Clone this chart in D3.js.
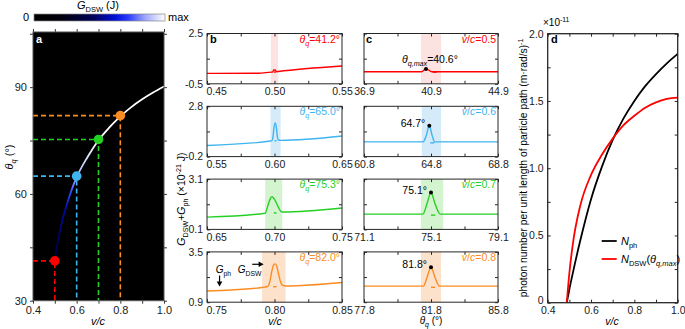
<!DOCTYPE html>
<html><head><meta charset="utf-8">
<script src="https://cdn.jsdelivr.net/npm/d3@7"></script>
<style>body{margin:0;background:#fff}svg{display:block}</style>
</head><body><svg id="c" width="685" height="329"></svg>
<script>
const FONT='"Liberation Sans", Arial, Helvetica, sans-serif';
// ---------- data ----------
// panel a
const aV=[0.5,0.505,0.51,0.52,0.53,0.55,0.575,0.6,0.65,0.7,0.75,0.8,0.85,0.9,0.95,1.0];
const aTheta=[40.6,43.5,45.5,48.5,51.5,56,60.8,64.7,70.4,75.1,78.7,81.8,84.4,86.6,88.5,90.2];
const aLevel=[0.4,0.42,0.44,0.47,0.5,0.56,0.74,0.86,0.95,1,1,1,1,1,1,1];
const markV=[0.5,0.6,0.7,0.8];
const markTheta=[41.2,65.0,75.3,82.0];
const colors=['#ff0000','#3fb4ee','#25d025','#fa8c22'];
const bandColors=['#fde2e2','#d5ebfa','#d3f4cf','#fde2cb'];
const cbStops=[0,0.2,0.45,0.62,0.72,0.85,1];
const cbColors=['#000000','#00000a','#00005a','#0010d8','#2a3cff','#a0a8ff','#ffffff'];
// panel b
const bXDomains=[[0.45,0.55],[0.55,0.65],[0.65,0.75],[0.75,0.85]];
const bYDomains=[[-0.5,2.5],[-0.2,2.8],[0.1,3.1],[0.9,3.5]];
const bThetaLabels=['41.2','65.0','75.3','82.0'];
const bBands=[[0.4973,0.5027],[0.597,0.6045],[0.6931,0.7057],[0.7908,0.8082]];
const bCurve1=[[0.45,0.12],[0.488,0.13],[0.4973,0.194],[0.4985,0.2],[0.4995,0.32],[0.5005,0.33],[0.5015,0.22],[0.5027,0.232],[0.55,0.56]];
const bCurve2=[[0.55,0.46],[0.597,0.73],[0.5985,0.8],[0.599,1.05],[0.5995,1.45],[0.6005,1.8],[0.6015,1.45],[0.602,1.05],[0.6028,0.8],[0.6045,0.77],[0.65,1.03]];
const bCurve3=[[0.65,0.83],[0.6931,1.067],[0.695,1.5],[0.697,1.95],[0.698,2.05],[0.699,2.0],[0.701,1.75],[0.703,1.4],[0.7045,1.2],[0.7057,1.135],[0.75,1.38]];
const bCurve4=[[0.75,1.48],[0.7908,1.66],[0.795,1.72],[0.7965,1.95],[0.798,2.5],[0.7995,2.85],[0.8005,2.88],[0.8015,2.8],[0.803,2.35],[0.8045,1.95],[0.806,1.78],[0.8082,1.74],[0.85,1.92]];
const bDash=[[0.4995,0.501,0.2],[0.6,0.6015,0.74],[0.6995,0.7015,1.08],[0.799,0.8015,1.70]];
// panel c
const cXDomains=[[36.9,44.9],[60.8,68.8],[71.1,79.1],[77.8,85.8]];
const cVcLabels=['0.5','0.6','0.7','0.8'];
const cBands=[[40.3,41.5],[64.25,65.4],[74.5,75.83],[81.2,82.4]];
const cPeakX=[40.6,64.7,75.1,81.8];
const cPeakY=[0.39,1.64,2.3,2.71];
const cCurve1=[[36.9,0.22],[40.34,0.22],[40.6,0.39],[40.95,0.22],[44.9,0.22]];
const cCurve2=[[60.8,0.68],[64.33,0.68],[64.5,1.0],[64.7,1.64],[64.87,1.05],[65.02,0.68],[68.8,0.68]];
const cCurve3=[[71.1,1.01],[74.62,1.01],[74.85,1.6],[75.1,2.3],[75.35,1.6],[75.65,1.01],[79.1,1.01]];
const cCurve4=[[77.8,1.73],[81.35,1.73],[81.55,2.15],[81.8,2.71],[82.05,2.15],[82.3,1.73],[85.8,1.73]];
const cDash=[[41.0,41.25,0.2],[64.75,65.0,0.62],[75.1,75.35,0.95],[81.8,82.05,1.67]];
// panel d
const dV=[0.488,0.5,0.52,0.55,0.6,0.65,0.7,0.75,0.8,0.85,0.9,0.95,1.0];
const dNph=[0,0.1,0.25,0.46,0.77,1.01,1.21,1.37,1.5,1.61,1.7,1.78,1.85];
const dNdsw=[0,0.22,0.48,0.72,0.95,1.1,1.22,1.32,1.39,1.45,1.49,1.515,1.525];

// ---------- helpers ----------
const svg=d3.select('#c');
const defs=svg.append('defs');
function rich(parent,x,y,parts,attrs={}){
  const fs=attrs['font-size']||10.5;
  const t=parent.append('text').attr('x',x).attr('y',y).attr('font-family',FONT).attr('font-size',fs);
  Object.entries(attrs).forEach(([k,v])=>t.attr(k,v));
  let cur=0;
  parts.forEach(p=>{
    const off=p.sub?fs*0.3:p.sup?-fs*0.42:0;
    const s=t.append('tspan').text(p.t).attr('dy',off-cur);
    cur=off;
    if(p.sub||p.sup) s.attr('font-size',fs*0.68);
    if(p.i) s.attr('font-style','italic');
  });
  return t;
}
function axes(g,xs,ys,c){
  const len=c.out?3:-3;
  const [X0,X1]=xs.range();const [Y1,Y0]=ys.range();
  const mk=(axis,tr,ticks,fmt,pad)=>{
    const a=g.append('g').attr('transform',tr)
      .call(axis.tickValues(ticks).tickFormat(fmt).tickSizeInner(len).tickSizeOuter(0).tickPadding(pad));
    a.select('.domain').remove();
    a.attr('font-family',FONT).attr('font-size',c.fs||10.5);
    a.selectAll('line').attr('stroke',c.tc||'#262626');
    a.selectAll('text').attr('fill','#1a1a1a');
    return a;
  };
  const bx=mk(d3.axisBottom(xs),`translate(0,${Y1})`,c.xt,c.xf,c.xpad);
  mk(d3.axisTop(xs),`translate(0,${Y0})`,c.xt,()=>'',0);
  const ly=mk(d3.axisLeft(ys),`translate(${X0},0)`,c.yt,c.yf,c.ypad);
  mk(d3.axisRight(ys),`translate(${X1},0)`,c.yt,()=>'',0);
  g.append('rect').attr('x',X0).attr('y',Y0).attr('width',X1-X0).attr('height',Y1-Y0)
    .attr('fill','none').attr('stroke',c.fc||'#262626').attr('stroke-width',c.fw||1);
  return {bx,ly};
}

// ---------- panel a ----------
const gA=svg.append('g');
const xA=d3.scaleLinear().domain([0.4,1.0]).range([33,164]);
const yA=d3.scaleLinear().domain([30,105.5]).range([300.7,32]);
const cbScale=d3.scaleLinear().domain(cbStops).range(cbColors);
// colorbar
const cbg=defs.append('linearGradient').attr('id','cbg').attr('x1','0%').attr('x2','100%');
cbStops.forEach((s,i)=>cbg.append('stop').attr('offset',(s*100)+'%').attr('stop-color',cbColors[i]));
const cbX=d3.scaleLinear().domain([0,1]).range([34,165]);
gA.append('rect').attr('x',cbX(0)).attr('y',14).attr('width',cbX(1)-cbX(0)).attr('height',7)
  .attr('fill','url(#cbg)').attr('stroke','#888').attr('stroke-width',0.7);
gA.append('text').attr('x',cbX(0)-5).attr('y',21).attr('text-anchor','end').attr('font-family',FONT).attr('font-size',11).text('0');
gA.append('text').attr('x',cbX(1)+3).attr('y',21).attr('font-family',FONT).attr('font-size',11).text('max');
rich(gA,98,9,[{t:'G',i:true},{t:'DSW',sub:true},{t:' (J)'}],{'text-anchor':'middle','font-size':11});
// plot
gA.append('rect').attr('x',xA(0.4)).attr('y',yA(105.5)).attr('width',xA(1)-xA(0.4)).attr('height',yA(30)-yA(105.5)).attr('fill','#000');
const cg=defs.append('linearGradient').attr('id','curveg').attr('gradientUnits','userSpaceOnUse')
  .attr('x1',0).attr('x2',0).attr('y1',yA(aTheta[0])).attr('y2',yA(aTheta[aTheta.length-1]));
const t0=yA(aTheta[0]),t1=yA(aTheta[aTheta.length-1]);
aTheta.forEach((th,i)=>cg.append('stop').attr('offset',((yA(th)-t0)/(t1-t0)*100)+'%').attr('stop-color',cbScale(aLevel[i])));
gA.append('path').datum(aV.map((v,i)=>[v,aTheta[i]]))
  .attr('d',d3.line().x(d=>xA(d[0])).y(d=>yA(d[1])).curve(d3.curveMonotoneX))
  .attr('fill','none').attr('stroke','url(#curveg)').attr('stroke-width',1.8);
markV.forEach((v,i)=>{
  gA.append('path').attr('d',`M${xA(0.4)},${yA(markTheta[i])}H${xA(v)}V${yA(30)}`)
    .attr('fill','none').attr('stroke',colors[i]).attr('stroke-width',1.6).attr('stroke-dasharray','5,3');
});
markV.forEach((v,i)=>gA.append('circle').attr('cx',xA(v)).attr('cy',yA(markTheta[i])).attr('r',4.8).attr('fill',colors[i]));
axes(gA,xA,yA,{out:true,fs:11,xt:d3.range(0.4,1.001,0.1),xf:d=>[0.4,0.6,0.8,1.0].some(v=>Math.abs(v-d)<1e-6)?d.toFixed(1):'',
  yt:[30,45,60,75,90,105],yf:d=>[30,60,90].includes(d)?d:'',xpad:3,ypad:3,fc:'#555',tc:'#333'});
gA.append('text').attr('x',36).attr('y',43).attr('fill','#fff').attr('font-weight','bold').attr('font-family',FONT).attr('font-size',11).text('a');
rich(gA,98,325,[{t:'v/c',i:true}],{'text-anchor':'middle','font-size':11});
rich(gA,0,0,[{t:'θ',i:true},{t:'q',i:true,sub:true},{t:' (°)'}],{'text-anchor':'middle','font-size':11,transform:'translate(13,157) rotate(-90)'});

// ---------- panel b & c ----------
const tops=[33.5,106.3,179.1,251.9], hSub=50.3;
const bCurves=[bCurve1,bCurve2,bCurve3,bCurve4];
const cCurves=[cCurve1,cCurve2,cCurve3,cCurve4];
const gB=svg.append('g'), gC=svg.append('g');
const lineGen=(xs,ys)=>d3.line().x(d=>xs(d[0])).y(d=>ys(d[1])).curve(d3.curveMonotoneX);
for(let i=0;i<4;i++){
  const y0=tops[i], y1=tops[i]+hSub;
  const yd=bYDomains[i];
  // b
  const xs=d3.scaleLinear().domain(bXDomains[i]).range([207,342]);
  const ys=d3.scaleLinear().domain(yd).range([y1,y0]);
  gB.append('rect').attr('x',xs(bBands[i][0])).attr('y',y0).attr('width',xs(bBands[i][1])-xs(bBands[i][0])).attr('height',hSub).attr('fill',bandColors[i]);
  gB.append('path').datum(bCurves[i]).attr('d',lineGen(xs,ys)).attr('fill','none').attr('stroke',colors[i]).attr('stroke-width',1.4);
  gB.append('line').attr('x1',xs(bDash[i][0])).attr('x2',xs(bDash[i][1])).attr('y1',ys(bDash[i][2])).attr('y2',ys(bDash[i][2])).attr('stroke',colors[i]).attr('stroke-width',1.4);
  const xd=bXDomains[i], xm=(xd[0]+xd[1])/2, ym=(yd[0]+yd[1])/2;
  const ab=axes(gB,xs,ys,{xt:[xd[0],xd[0]+0.025,xm,xm+0.025,xd[1]],xf:(d,k)=>k%2===0?d.toFixed(2):'',
    yt:[yd[0],ym,yd[1]],yf:(d,k)=>k===1?'':d.toFixed(1),xpad:4,ypad:4});
  ab.bx.select('.tick text').attr('text-anchor','start').attr('x',-1);
  rich(gB,340,y0+9,[{t:'θ',i:true},{t:'q',i:true,sub:true},{t:'='+bThetaLabels[i]+'°'}],{'text-anchor':'end',fill:colors[i]});
  // c
  const xc=d3.scaleLinear().domain(cXDomains[i]).range([364,498]);
  const cd=cXDomains[i], cm=(cd[0]+cd[1])/2;
  gC.append('rect').attr('x',xc(cBands[i][0])).attr('y',y0).attr('width',xc(cBands[i][1])-xc(cBands[i][0])).attr('height',hSub).attr('fill',bandColors[i]);
  gC.append('path').datum(cCurves[i]).attr('d',lineGen(xc,ys)).attr('fill','none').attr('stroke',colors[i]).attr('stroke-width',1.4);
  gC.append('line').attr('x1',xc(cDash[i][0])).attr('x2',xc(cDash[i][1])).attr('y1',ys(cDash[i][2])).attr('y2',ys(cDash[i][2])).attr('stroke',colors[i]).attr('stroke-width',1.4);
  gC.append('circle').attr('cx',xc(cPeakX[i])).attr('cy',ys(cPeakY[i])).attr('r',2).attr('fill','#000');
  axes(gC,xc,ys,{xt:[cd[0],cd[0]+2,cm,cm+2,cd[1]],xf:(d,k)=>k%2===0?d.toFixed(1):'',
    yt:[yd[0],ym,yd[1]],yf:()=>'',xpad:4,ypad:4});
  rich(gC,496,y0+9,[{t:'v',i:true},{t:'/'},{t:'c',i:true},{t:'='+cVcLabels[i]}],{'text-anchor':'end',fill:colors[i]});
  if(i===0){
    rich(gC,xc(cPeakX[i])+4,ys(cPeakY[i])-6,[{t:'θ',i:true},{t:'q,max',i:true,sub:true},{t:'='+cPeakX[i].toFixed(1)+'°'}],{'text-anchor':'middle'});
  } else {
    rich(gC,xc(cPeakX[i])-4,ys(cPeakY[i])+1,[{t:cPeakX[i].toFixed(1)+'°'}],{'text-anchor':'end'});
  }
  if(i===3){
    // annotations in b4
    rich(gB,xs(0.7565),ys(2.40),[{t:'G',i:true},{t:'ph',sub:true}],{'font-size':10});
    gB.append('line').attr('x1',xs(0.7593)).attr('x2',xs(0.7593)).attr('y1',ys(2.28)).attr('y2',ys(1.92)).attr('stroke','#000').attr('stroke-width',1.2);
    gB.append('path').attr('d',`M${xs(0.7593)-2.8},${ys(1.92)-1}L${xs(0.7593)+2.8},${ys(1.92)-1}L${xs(0.7593)},${ys(1.92)+4}Z`).attr('fill','#000');
    rich(gB,xs(0.7728),ys(2.40),[{t:'G',i:true},{t:'DSW',sub:true}],{'font-size':10});
    gB.append('line').attr('x1',xs(0.7835)).attr('x2',xs(0.789)).attr('y1',ys(2.86)).attr('y2',ys(2.86)).attr('stroke','#000').attr('stroke-width',1.2);
    gB.append('path').attr('d',`M${xs(0.789)-1},${ys(2.86)-2.8}L${xs(0.789)-1},${ys(2.86)+2.8}L${xs(0.789)+4},${ys(2.86)}Z`).attr('fill','#000');
  }
}
gB.append('text').attr('x',210).attr('y',42.5).attr('font-weight','bold').attr('font-family',FONT).attr('font-size',11).text('b');
gC.append('text').attr('x',366).attr('y',42.5).attr('font-weight','bold').attr('font-family',FONT).attr('font-size',11).text('c');
rich(gB,275,325,[{t:'v/c',i:true}],{'text-anchor':'middle'});
rich(gC,431,323.5,[{t:'θ',i:true},{t:'q',i:true,sub:true},{t:' (°)'}],{'text-anchor':'middle','font-size':10});
rich(gB,0,0,[{t:'G',i:true},{t:'DSW',sub:true},{t:'+'},{t:'G',i:true},{t:'ph',sub:true},{t:' (×10'},{t:'-21',sup:true},{t:' J)'}],
  {'text-anchor':'middle',transform:'translate(185,199) rotate(-90)'});

// ---------- panel d ----------
const gD=svg.append('g');
const xD=d3.scaleLinear().domain([0.4,1.0]).range([547.7,677.7]);
const yD=d3.scaleLinear().domain([0,2.0]).range([302.7,33.7]);
const dl=d3.line().x(d=>xD(d[0])).y(d=>yD(d[1])).curve(d3.curveMonotoneX);
gD.append('path').datum(dV.map((v,i)=>[v,dNph[i]])).attr('d',dl).attr('fill','none').attr('stroke','#000').attr('stroke-width',1.8);
gD.append('path').datum(dV.map((v,i)=>[v,dNdsw[i]])).attr('d',dl).attr('fill','none').attr('stroke','#ff0000').attr('stroke-width',1.8);
const ad=axes(gD,xD,yD,{xt:d3.range(0.4,1.001,0.1),xf:d=>[0.4,0.6,0.8,1.0].some(v=>Math.abs(v-d)<1e-6)?d.toFixed(1):'',
  yt:d3.range(0,2.001,0.25),yf:d=>[0,0.5,1,1.5,2].some(v=>Math.abs(v-d)<1e-6)?(d===0?'0':d.toFixed(1)):'',xpad:4,ypad:4,fw:1.3});
ad.ly.select('.tick text').attr('dy','0.05em');
gD.append('text').attr('x',551).attr('y',43).attr('font-weight','bold').attr('font-family',FONT).attr('font-size',11).text('d');
rich(gD,543,26,[{t:'×10'},{t:'-11',sup:true}],{'font-size':10});
rich(gD,612,325,[{t:'v/c',i:true}],{'text-anchor':'middle'});
rich(gD,0,0,[{t:'photon number per unit length of particle path (m·rad/s)'},{t:'-1',sup:true}],
  {'text-anchor':'middle','font-size':10.3,transform:'translate(527,168) rotate(-90)'});
// legend
gD.append('line').attr('x1',601.7).attr('x2',616.7).attr('y1',241).attr('y2',241).attr('stroke','#000').attr('stroke-width',1.8);
gD.append('line').attr('x1',601.7).attr('x2',616.7).attr('y1',259).attr('y2',259).attr('stroke','#ff0000').attr('stroke-width',1.8);
rich(gD,621,245,[{t:'N',i:true},{t:'ph',sub:true}],{'font-size':11});
rich(gD,621,263,[{t:'N',i:true},{t:'DSW',sub:true},{t:'('},{t:'θ',i:true},{t:'q,max',i:true,sub:true},{t:')'}],{'font-size':11});
</script></body></html>
